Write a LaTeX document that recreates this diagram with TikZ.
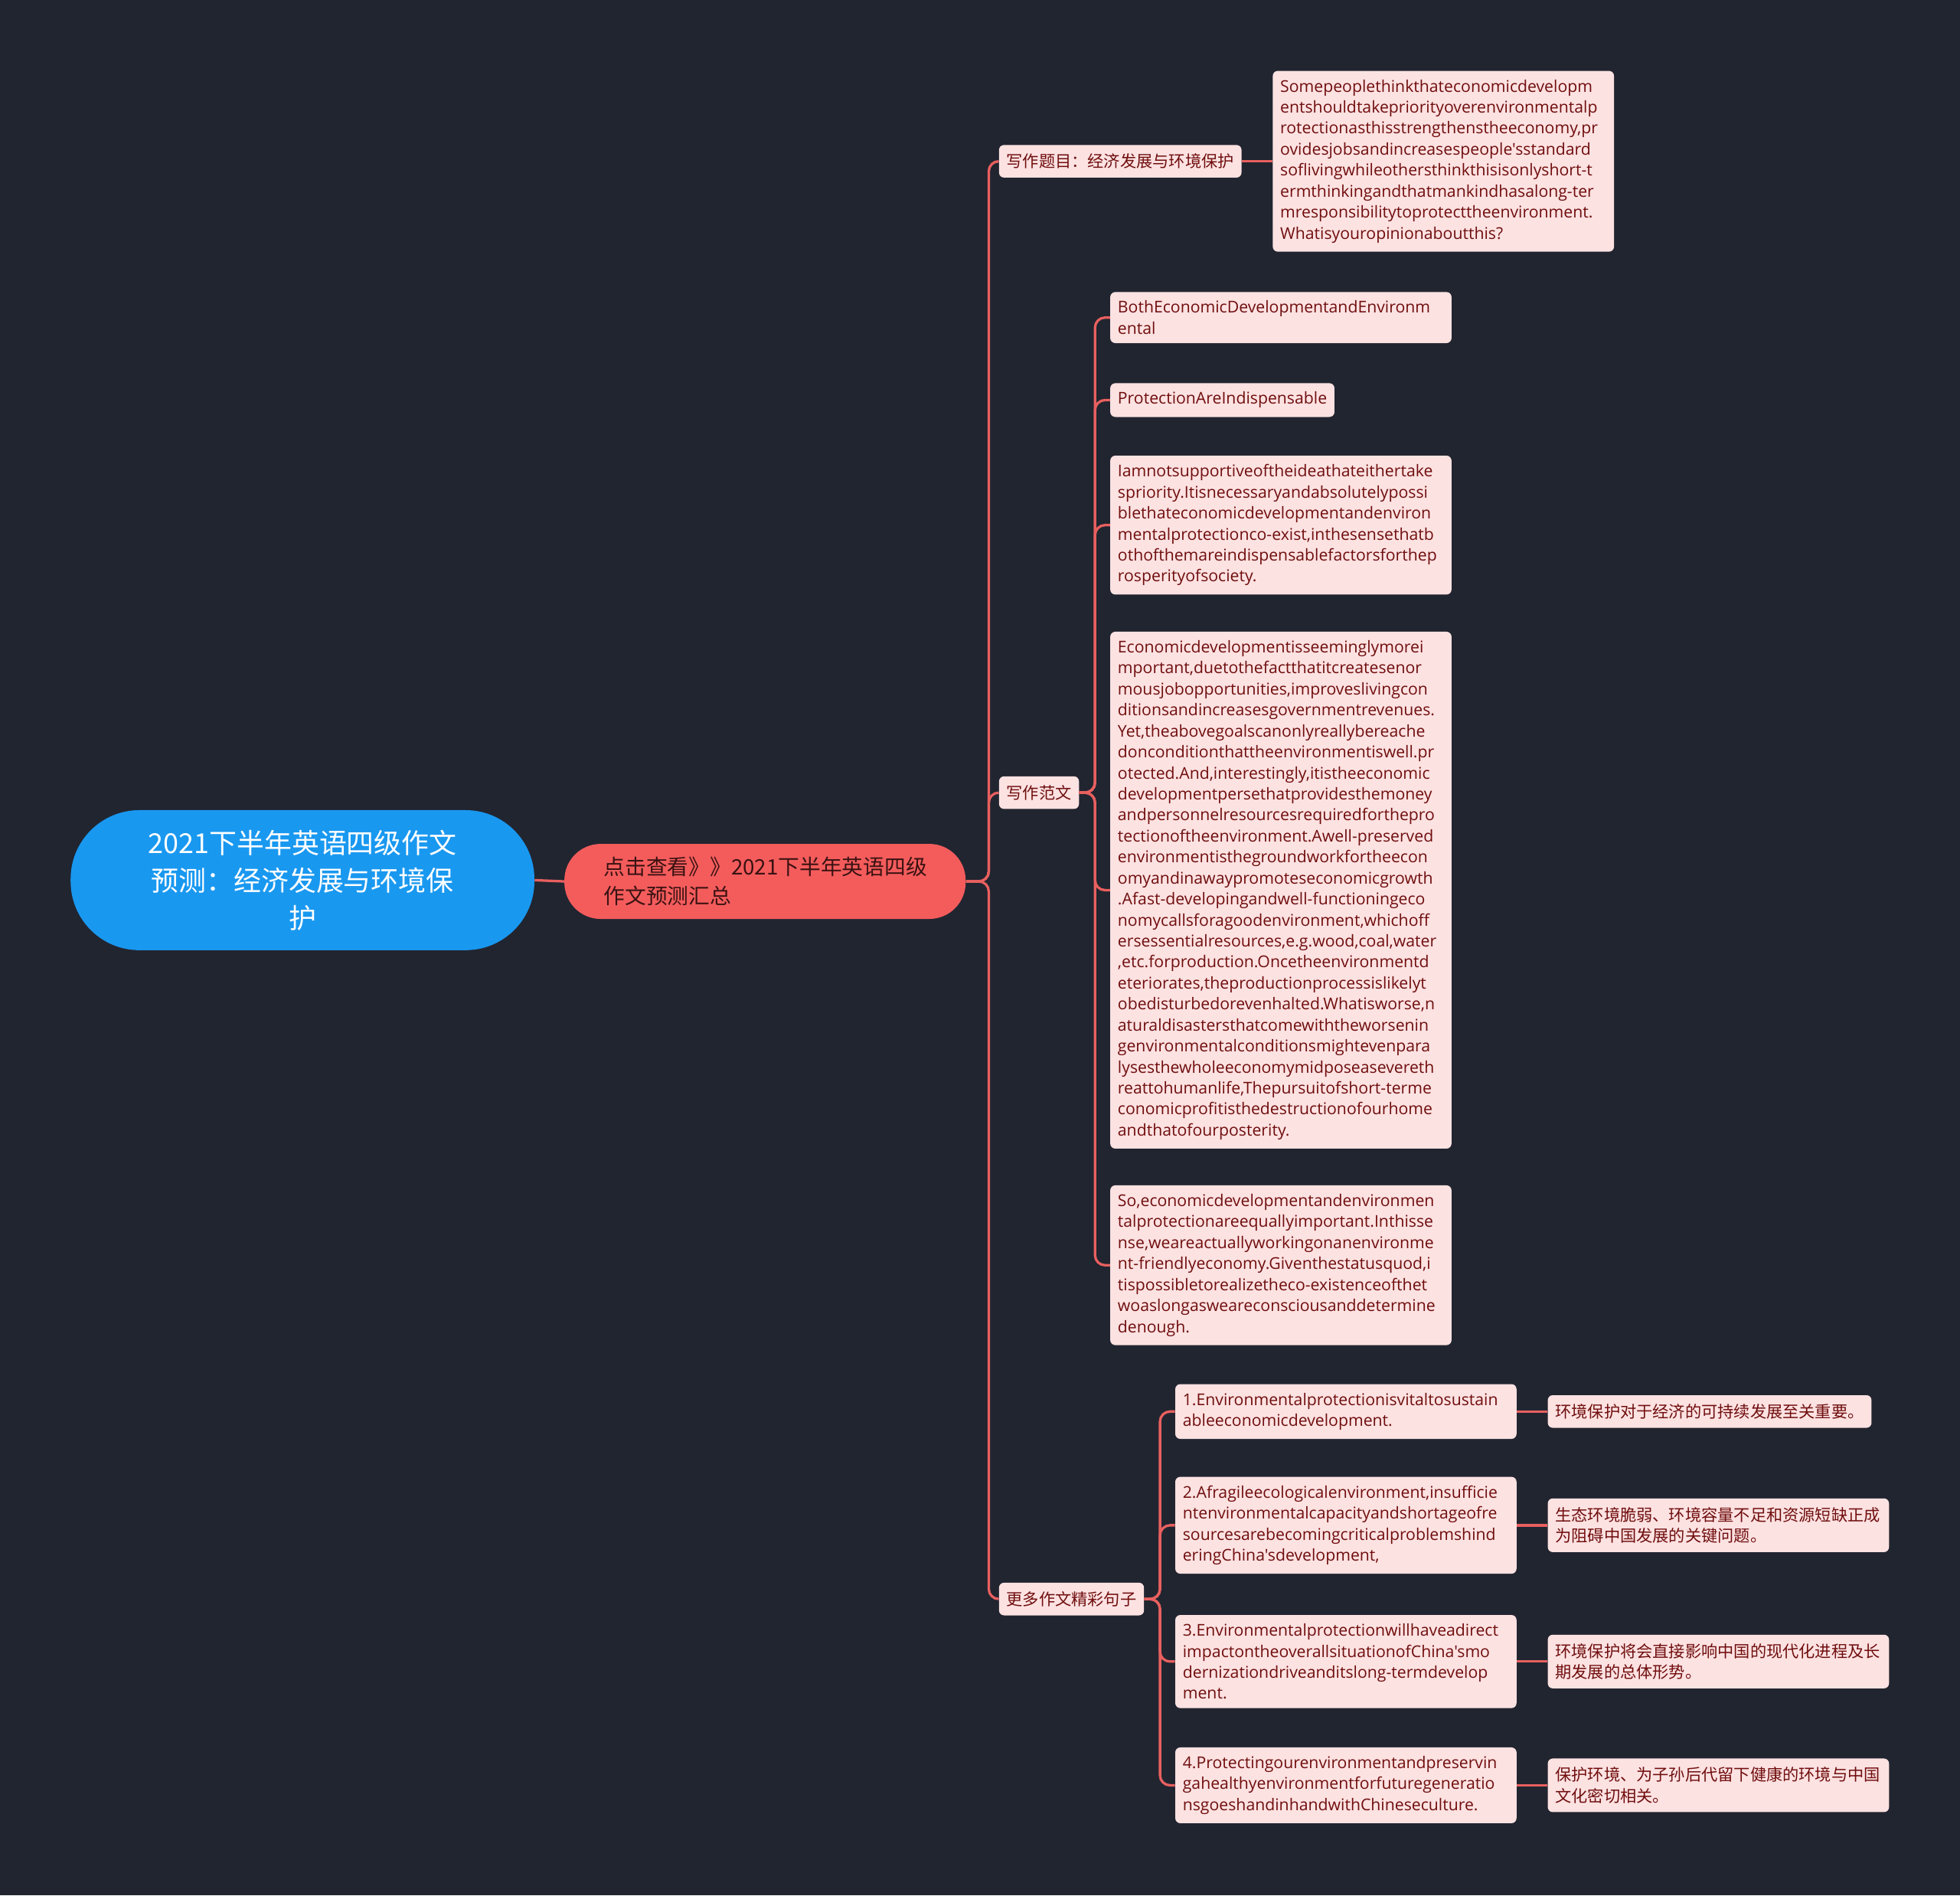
\documentclass[tikz,border=0pt]{standalone}
\usepackage{fontspec}
\setmainfont{Open Sans}[Ligatures=TeXOff]
\newfontfamily\cjk{Noto Sans CJK SC}
\hyphenpenalty=10000
\exhyphenpenalty=10000
\definecolor{bg}{RGB}{33,37,48}
\definecolor{rootblue}{RGB}{25,152,240}
\definecolor{hubred}{RGB}{244,92,92}
\definecolor{linkred}{RGB}{232,96,95}
\definecolor{leafpink}{RGB}{253,226,226}
\definecolor{leaftext}{RGB}{112,14,14}
\tikzset{leaf/.style={fill=leafpink, text=leaftext, rounded corners=4pt, anchor=west,
      inner xsep=6pt, inner ysep=7pt, align=left, font=\fontsize{13}{16.8}\selectfont},
  wide/.style={text width=261pt},
  zh/.style={font=\cjk\fontsize{13}{16.8}\selectfont},
  link/.style={draw=linkred, line width=2pt, rounded corners=8pt}}

\begin{document}
\begin{tikzpicture}[x=1pt, y=-1pt]
    \fill[bg] (0,0) rectangle (1568,1516);
    \useasboundingbox (0,0) rectangle (1568,1516);
    \node[fill=rootblue, text=white, rounded corners=55pt, minimum width=371pt, minimum height=112pt,
      align=center, font=\cjk\fontsize{22}{30}\selectfont] (root) at (242,704)
      {2021下半年英语四级作文\\预测：经济发展与环境保\\护};
    \node[fill=hubred, text={rgb,255:red,58;green,18;blue,18}, rounded corners=29pt, minimum width=321pt,
      minimum height=60pt, text width=258pt, align=left, font=\cjk\fontsize{17}{23}\selectfont] (hub) at (612,705)
      {点击查看》》2021下半年英语四级\\作文预测汇总};
    % second level
    \node[leaf, zh] (topic) at (799,129) {写作题目：经济发展与环境保护};
    \node[leaf, zh] (essay) at (799,634) {写作范文};
    \node[leaf, zh] (more) at (799,1279) {更多作文精彩句子};
    \coordinate (fork) at (791,705);
    \coordinate (essayfork) at (876,634);
    \coordinate (morefork) at (928,1279);
    % topic
    \node[leaf, wide] (question) at (1018,129) {Somepeoplethinkthateconomicdevelopm\\entshouldtakepriorityoverenvironmentalp\\rotectionasthisstrengthenstheeconomy,pr\\ovidesjobsandincreasespeople'sstandard\\soflivingwhileothersthinkthisisonlyshort-t\\ermthinkingandthatmankindhasalong-ter\\mresponsibilitytoprotecttheenvironment.\\Whatisyouropinionaboutthis?};
    % essay
    \node[leaf, wide] (para1) at (888,254) {BothEconomicDevelopmentandEnvironm\\ental};
    \node[leaf] (para2) at (888,320) {ProtectionAreIndispensable};
    \node[leaf, wide] (para3) at (888,420) {Iamnotsupportiveoftheideathateithertake\\spriority.Itisnecessaryandabsolutelypossi\\blethateconomicdevelopmentandenviron\\mentalprotectionco-exist,inthesensethatb\\othofthemareindispensablefactorsforthep\\rosperityofsociety.};
    \node[leaf, wide] (para4) at (888,712) {Economicdevelopmentisseeminglymorei\\mportant,duetothefactthatitcreatesenor\\mousjobopportunities,improveslivingcon\\ditionsandincreasesgovernmentrevenues.\\Yet,theabovegoalscanonlyreallybereache\\donconditionthattheenvironmentiswell.pr\\otected.And,interestingly,itistheeconomic\\developmentpersethatprovidesthemoney\\andpersonnelresourcesrequiredforthepro\\tectionoftheenvironment.Awell-preserved\\environmentisthegroundworkfortheecon\\omyandinawaypromoteseconomicgrowth\\.Afast-developingandwell-functioningeco\\nomycallsforagoodenvironment,whichoff\\ersessentialresources,e.g.wood,coal,water\\,etc.forproduction.Oncetheenvironmentd\\eteriorates,theproductionprocessislikelyt\\obedisturbedorevenhalted.Whatisworse,n\\aturaldisastersthatcomewiththeworsenin\\genvironmentalconditionsmightevenpara\\lysesthewholeeconomymidposeasevereth\\reattohumanlife,Thepursuitofshort-terme\\conomicprofitisthedestructionofourhome\\andthatofourposterity.};
    \node[leaf, wide] (para5) at (888,1012) {So,economicdevelopmentandenvironmen\\talprotectionareequallyimportant.Inthisse\\nse,weareactuallyworkingonanenvironme\\nt-friendlyeconomy.Giventhestatusquod,i\\tispossibletorealizetheco-existenceofthet\\woaslongasweareconsciousanddetermine\\denough.};
    % sentences
    \node[leaf, wide] (sent1) at (940,1129) {1.Environmentalprotectionisvitaltosustain\\ableeconomicdevelopment.};
    \node[leaf, wide] (sent2) at (940,1220) {2.Afragileecologicalenvironment,insufficie\\ntenvironmentalcapacityandshortageofre\\sourcesarebecomingcriticalproblemshind\\eringChina'sdevelopment,};
    \node[leaf, wide] (sent3) at (940,1329) {3.Environmentalprotectionwillhaveadirect\\impactontheoverallsituationofChina'smo\\dernizationdriveanditslong-termdevelop\\ment.};
    \node[leaf, wide] (sent4) at (940,1428) {4.Protectingourenvironmentandpreservin\\gahealthyenvironmentforfuturegeneratio\\nsgoeshandinhandwithChineseculture.};
    \node[leaf, zh] (trans1) at (1238,1129) {环境保护对于经济的可持续发展至关重要。};
    \node[leaf, zh, wide] (trans2) at (1238,1220) {生态环境脆弱、环境容量不足和资源短缺正成\\为阻碍中国发展的关键问题。};
    \node[leaf, zh, wide] (trans3) at (1238,1329) {环境保护将会直接影响中国的现代化进程及长\\期发展的总体形势。};
    \node[leaf, zh, wide] (trans4) at (1238,1428) {保护环境、为子孙后代留下健康的环境与中国\\文化密切相关。};
    % connectors
    \draw[link] (root.east) -- (hub.west);
    \foreach \n in {topic, essay, more}
      \draw[link] (hub.east) -- (fork) |- (\n.west);
    \draw[link] (topic.east) -- (question.west);
    \foreach \n in {para1, para2, para3, para4, para5}
      \draw[link] (essay.east) -- (essayfork) |- (\n.west);
    \foreach \n in {1,...,4} {
      \draw[link] (more.east) -- (morefork) |- (sent\n.west);
      \draw[link] (sent\n.east) -- (trans\n.west);
    }
  \end{tikzpicture}
\end{document}
